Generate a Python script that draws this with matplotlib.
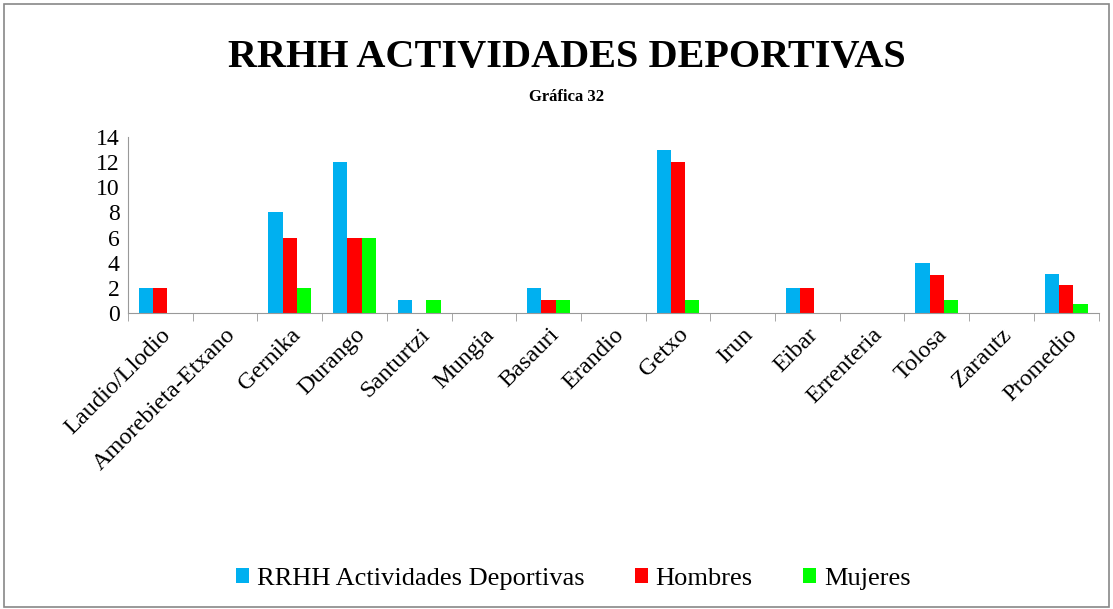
import numpy as np
import matplotlib
matplotlib.use('Agg')
import matplotlib.pyplot as plt
from matplotlib.patches import Rectangle

plt.rcParams['font.family'] = ['Liberation Serif', 'DejaVu Serif']

categories = ['Laudio/Llodio', 'Amorebieta-Etxano', 'Gernika', 'Durango', 'Santurtzi',
              'Mungia', 'Basauri', 'Erandio', 'Getxo', 'Irun', 'Eibar', 'Errenteria',
              'Tolosa', 'Zarautz', 'Promedio']
rrhh = [2, 0, 8, 12, 1, 0, 2, 0, 13, 0, 2, 0, 4, 0, 3.1]
hombres = [2, 0, 6, 6, 0, 0, 1, 0, 12, 0, 2, 0, 3, 0, 2.2]
mujeres = [0, 0, 2, 6, 1, 0, 1, 0, 1, 0, 0, 0, 1, 0, 0.7]
series_names = ['RRHH Actividades Deportivas', 'Hombres', 'Mujeres']
colors = ['#00B0F0', '#FF0000', '#00FF00']

fig = plt.figure(figsize=(11.13, 6.09), dpi=100)
fig.patches.append(Rectangle((0.004, 0.004), 0.992, 0.99, transform=fig.transFigure,
                             fill=False, edgecolor='#888888', linewidth=1.2))

ax = fig.add_axes([0.115, 0.486, 0.872, 0.289])
x = np.arange(len(categories))
w = 0.22
for i, (vals, name, c) in enumerate(zip([rrhh, hombres, mujeres], series_names, colors)):
    ax.bar(x - 0.33 + (i + 0.5) * w, vals, width=w, color=c, label=name)

ax.set_xlim(-0.5, len(categories) - 0.5)
ax.set_ylim(0, 14)
ax.set_yticks(range(0, 15, 2))
ax.tick_params(axis='y', labelsize=17, length=0, pad=6)
ax.set_xticks(x)
ax.set_xticklabels(categories, rotation=45, ha='right', rotation_mode='anchor', fontsize=17.5)
ax.tick_params(axis='x', length=0, pad=8)
ax.set_xticks(np.arange(-0.5, len(categories), 1), minor=True)
ax.tick_params(axis='x', which='minor', length=6, color='#999999', direction='out')
for s in ['top', 'right']:
    ax.spines[s].set_visible(False)
ax.spines['left'].set_color('#999999')
ax.spines['bottom'].set_color('#999999')

fig.text(0.509, 0.905, 'RRHH ACTIVIDADES DEPORTIVAS', ha='center', va='center',
         fontsize=29, fontweight='bold')
fig.text(0.509, 0.84, 'Gráfica 32', ha='center', va='center', fontsize=12, fontweight='bold')

fig.legend(loc='center', bbox_to_anchor=(0.515, 0.05), ncol=3, frameon=False,
           fontsize=19, handlelength=0.5, handleheight=0.5, handletextpad=0.3,
           columnspacing=1.9)

fig.savefig('out.png', dpi=100)
